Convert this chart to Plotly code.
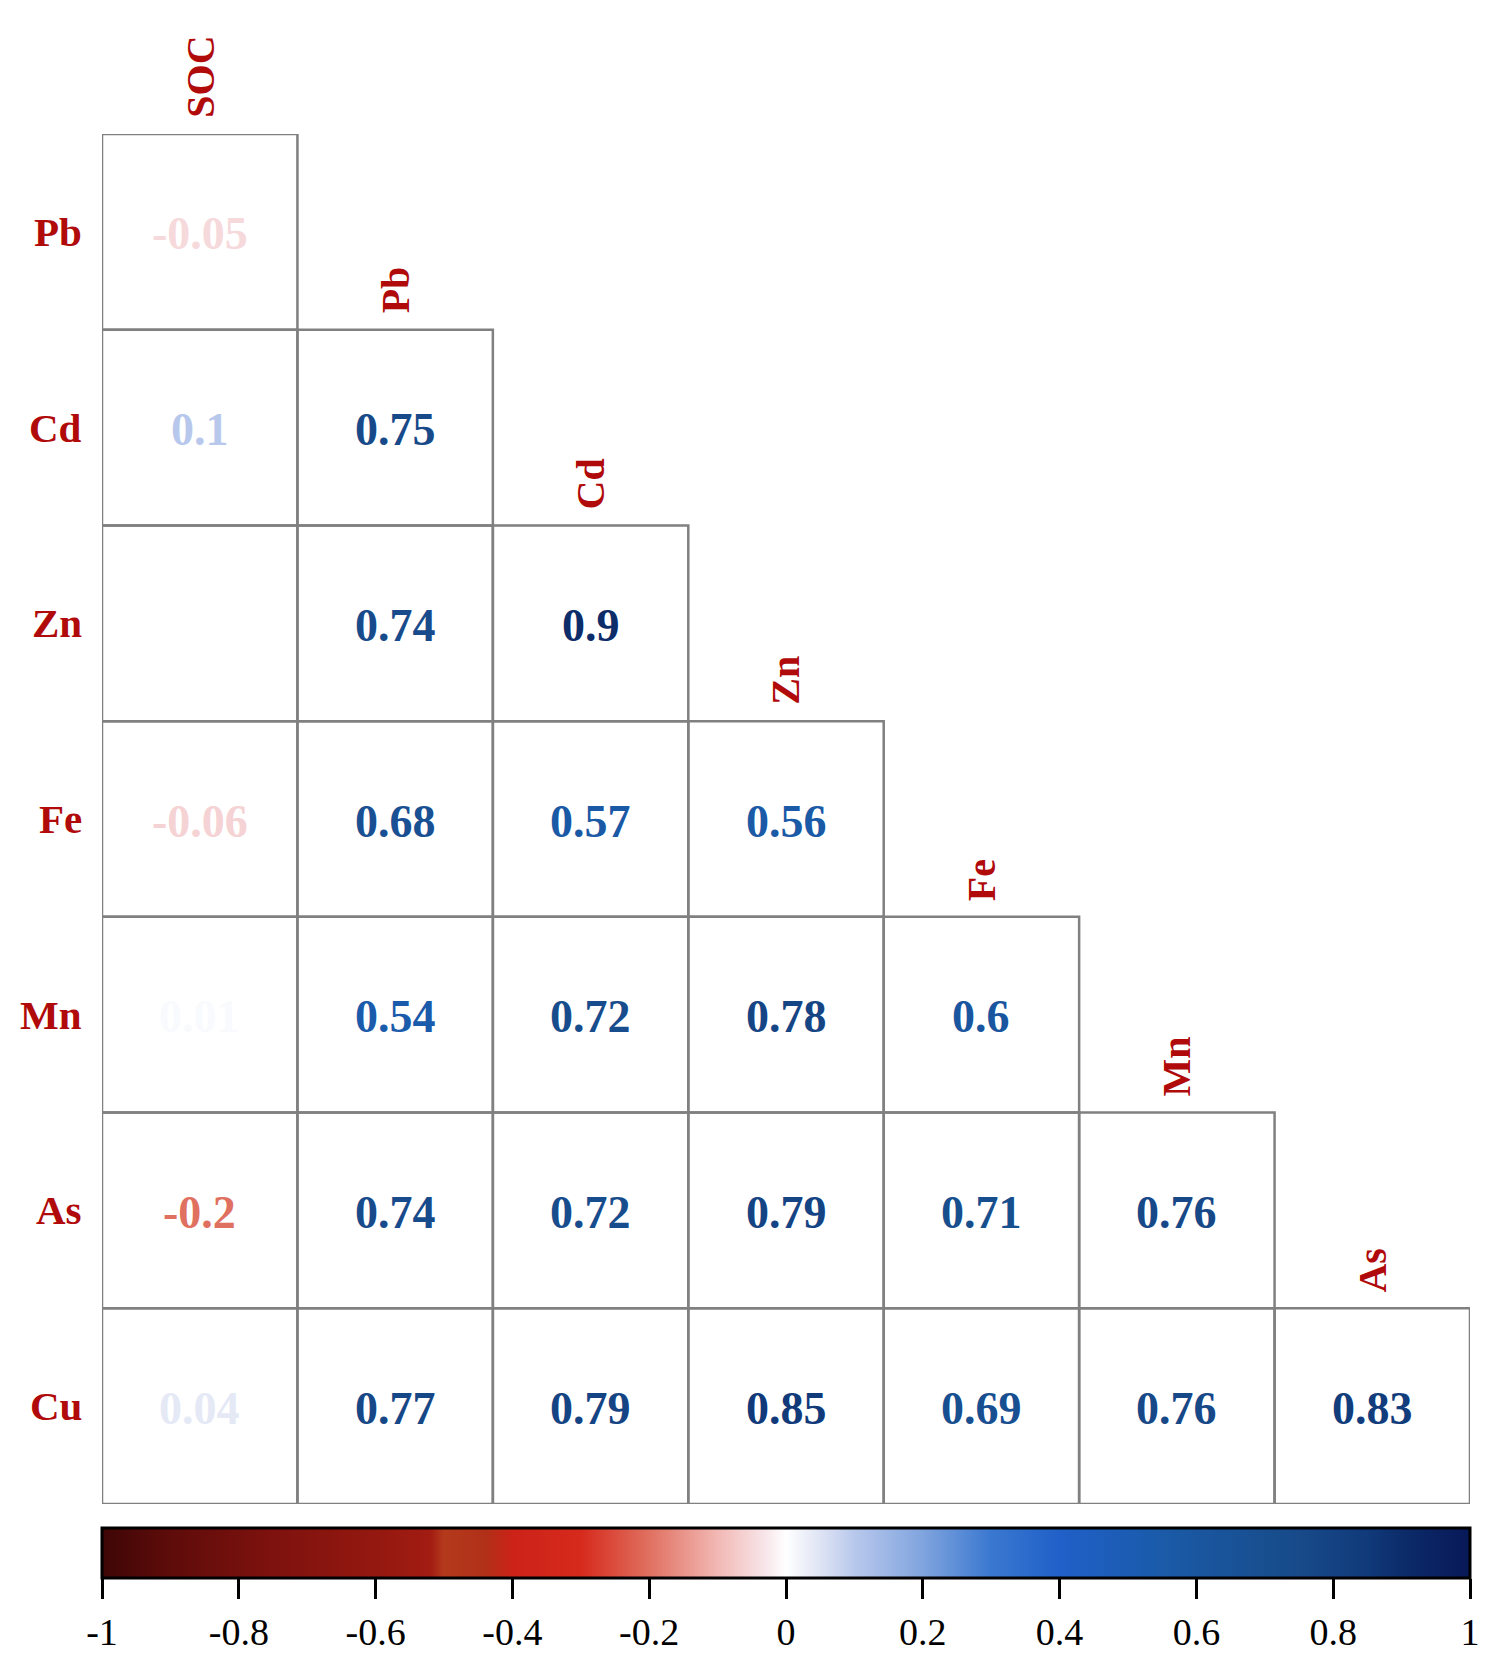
import plotly.graph_objects as go
from plotly.colors import sample_colorscale

# ---------------- data ----------------
row_labels = ["Pb", "Cd", "Zn", "Fe", "Mn", "As", "Cu"]
col_labels = ["SOC", "Pb", "Cd", "Zn", "Fe", "Mn", "As"]
corr_rows = [
    [-0.05],
    [0.1, 0.75],
    [0, 0.74, 0.9],
    [-0.06, 0.68, 0.57, 0.56],
    [0.01, 0.54, 0.72, 0.78, 0.6],
    [-0.2, 0.74, 0.72, 0.79, 0.71, 0.76],
    [0.04, 0.77, 0.79, 0.85, 0.69, 0.76, 0.83],
]
cbar_ticks = [-1, -0.8, -0.6, -0.4, -0.2, 0, 0.2, 0.4, 0.6, 0.8, 1]

# ---------------- style ----------------
FONT = "Liberation Serif"
LABEL_COLOR = "#B00A0A"
GRID_COLOR = "#808080"
colorscale = [
    [0.000, "#3e0606"],
    [0.050, "#5e0c0a"],
    [0.125, "#7e120e"],
    [0.200, "#941810"],
    [0.240, "#a21c12"],
    [0.250, "#b43a1c"],
    [0.280, "#b03018"],
    [0.300, "#cc2218"],
    [0.350, "#d62a1c"],
    [0.400, "#e07060"],
    [0.450, "#f2b8b4"],
    [0.485, "#f8e6ea"],
    [0.500, "#ffffff"],
    [0.525, "#dfe4f4"],
    [0.550, "#b8c8ec"],
    [0.600, "#80a4de"],
    [0.650, "#3a78d0"],
    [0.700, "#2060c8"],
    [0.750, "#1c5cb4"],
    [0.780, "#1a5aa6"],
    [0.800, "#1a56a0"],
    [0.855, "#174e8e"],
    [0.875, "#184a8a"],
    [0.925, "#103a7a"],
    [0.950, "#0c2c6a"],
    [1.000, "#081858"],
]

def to_color(v):
    return sample_colorscale(colorscale, [(v + 1) / 2])[0]

xs, ys, texts, vals = [], [], [], []
for r, row in enumerate(corr_rows):
    for c, v in enumerate(row):
        xs.append(c)
        ys.append(r)
        texts.append(f"{v:g}")
        vals.append(v)
text_colors = [to_color(v) for v in vals]

fig = go.Figure()

# invisible markers carrying the colour scale (for the colour bar)
fig.add_trace(go.Scatter(
    x=xs, y=ys, mode="markers", hoverinfo="skip", showlegend=False,
    marker=dict(
        size=1, opacity=0, color=vals, cmin=-1, cmax=1, colorscale=colorscale,
        showscale=True,
        colorbar=dict(
            orientation="h", x=0.5, xanchor="center", y=-0.0175, yanchor="top",
            len=1, lenmode="fraction", thickness=50, thicknessmode="pixels",
            outlinecolor="black", outlinewidth=3, xpad=0, ypad=0,
            ticks="outside", ticklen=20, tickwidth=3, tickcolor="black",
            tickvals=cbar_ticks, ticktext=[f"{t:g}" for t in cbar_ticks],
            tickfont=dict(family=FONT, size=38, color="black"),
        ),
    ),
))

# cell borders
shapes = []
for r, row in enumerate(corr_rows):
    for c, _ in enumerate(row):
        shapes.append(dict(type="rect", xref="x", yref="y",
                           x0=c - 0.5, x1=c + 0.5, y0=r - 0.5, y1=r + 0.5,
                           line=dict(color=GRID_COLOR, width=2.5),
                           fillcolor="rgba(0,0,0,0)", layer="above"))

annotations = []
# values
for x, y, t, col in zip(xs, ys, texts, text_colors):
    annotations.append(dict(x=x, xref="x", y=y, yref="y", text=t,
                            showarrow=False, xanchor="center", yanchor="middle",
                            yshift=-2,
                            font=dict(family=FONT, size=46, color=col,
                                      weight="bold")))
for r, lab in enumerate(row_labels):
    annotations.append(dict(x=0, xref="paper", y=r, yref="y", text=lab,
                            showarrow=False, xanchor="right", yanchor="middle",
                            xshift=-18,
                            font=dict(family=FONT, size=41, color=LABEL_COLOR,
                                      weight="bold")))
for c, lab in enumerate(col_labels):
    annotations.append(dict(x=c, xref="x", y=c - 0.5, yref="y", text=lab,
                            showarrow=False, xanchor="center", yanchor="bottom",
                            textangle=-90, yshift=14,
                            font=dict(family=FONT, size=40, color=LABEL_COLOR,
                                      weight="bold")))

fig.update_layout(
    width=1502, height=1680,
    margin=dict(l=94, r=40, t=126, b=184),
    paper_bgcolor="white", plot_bgcolor="white",
    xaxis=dict(range=[-0.5, 6.5], visible=False, fixedrange=True),
    yaxis=dict(range=[6.5, -0.5], visible=False, fixedrange=True),
    shapes=shapes, annotations=annotations,
)

fig.write_html("out.html")
